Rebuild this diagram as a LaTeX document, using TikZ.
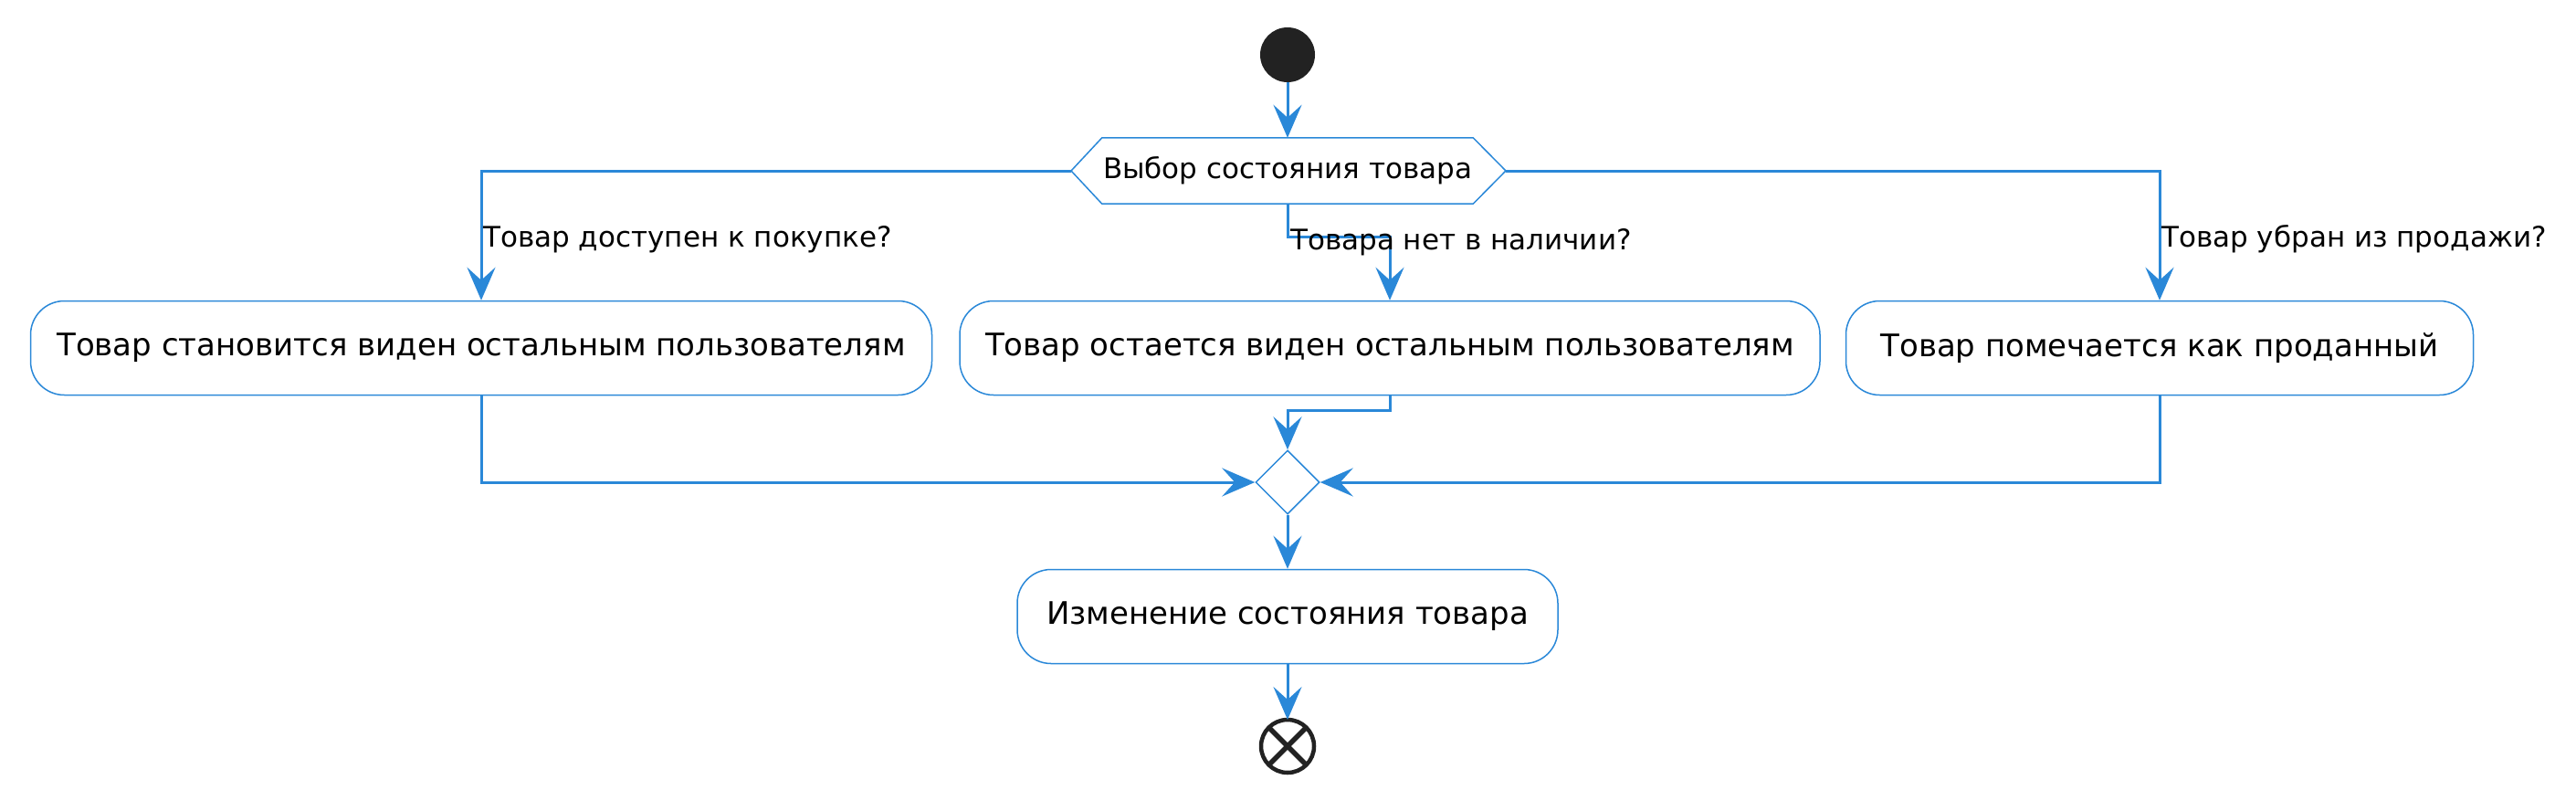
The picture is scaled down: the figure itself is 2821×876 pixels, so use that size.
\documentclass[tikz,border=0pt]{standalone}
\usepackage{fontspec}
\setmainfont{DejaVu Sans}
\usetikzlibrary{arrows.meta,shapes.geometric}
\definecolor{flowblue}{RGB}{42,136,216}
\definecolor{darkdot}{RGB}{34,34,34}

\begin{document}
\begin{tikzpicture}[x=1pt,y=-1pt,
    every node/.style={inner sep=0pt},
    action/.style={draw=flowblue,line width=1.5pt,rounded corners=37pt,minimum height=103pt,font=\fontsize{34}{41}\selectfont},
    guard/.style={anchor=base west,font=\fontsize{31}{37}\selectfont},
    flow/.style={draw=flowblue,line width=3pt,-{Stealth[length=36pt,width=31pt,inset=14pt]}}]
    \useasboundingbox (0,0) rectangle (2821,876);
    \node[circle,fill=darkdot,minimum size=60pt] (start) at (1410,60) {};
    \node[minimum width=406pt,minimum height=72pt,font=\fontsize{31}{37}\selectfont] (choice) at (1410,187) {Выбор состояния товара};
    \coordinate (choiceW) at (1173,187);
    \coordinate (choiceE) at (1649,187);
    \draw[flowblue,line width=1.5pt] (choiceW) -- (choice.north west) -- (choice.north east) -- (choiceE) -- (choice.south east) -- (choice.south west) -- cycle;
    \node[action,minimum width=987pt] (avail) at (527,381) {Товар становится виден остальным пользователям};
    \node[action,minimum width=942pt] (stock) at (1522,381) {Товар остается виден остальным пользователям};
    \node[action,minimum width=687pt] (sold) at (2365,381) {Товар помечается как проданный};
    \node[diamond,draw=flowblue,line width=1.5pt,minimum width=70pt,minimum height=70pt] (merge) at (1410,528) {};
    \node[action,minimum width=592pt] (change) at (1410,675) {Изменение состояния товара};
    \node[circle,draw=darkdot,line width=4.5pt,minimum size=58pt,outer sep=0pt] (end) at (1410,817) {};
    \draw[darkdot,line width=5.5pt] (end.north west) -- (end.south east);
    \draw[darkdot,line width=5.5pt] (end.north east) -- (end.south west);
    \draw[flow] (start) -- (choice);
    \draw[flow] (choiceW) -| (avail);
    \node[guard] (availq) at (529,270) {Товар доступен к покупке?};
    \draw[flow] (choice.south) -- ++(0,36) -| (stock);
    \node[guard] (stockq) at (1413,273) {Товара нет в наличии?};
    \draw[flow] (choiceE) -| (sold);
    \node[guard] (soldq) at (2367,270) {Товар убран из продажи?};
    \draw[flow] (avail.south) |- (merge.west);
    \draw[flow] (stock.south) -- ++(0,16) -| (merge.north);
    \draw[flow] (sold.south) |- (merge.east);
    \draw[flow] (merge) -- (change);
    \draw[flow] (change) -- (end);
\end{tikzpicture}
\end{document}
